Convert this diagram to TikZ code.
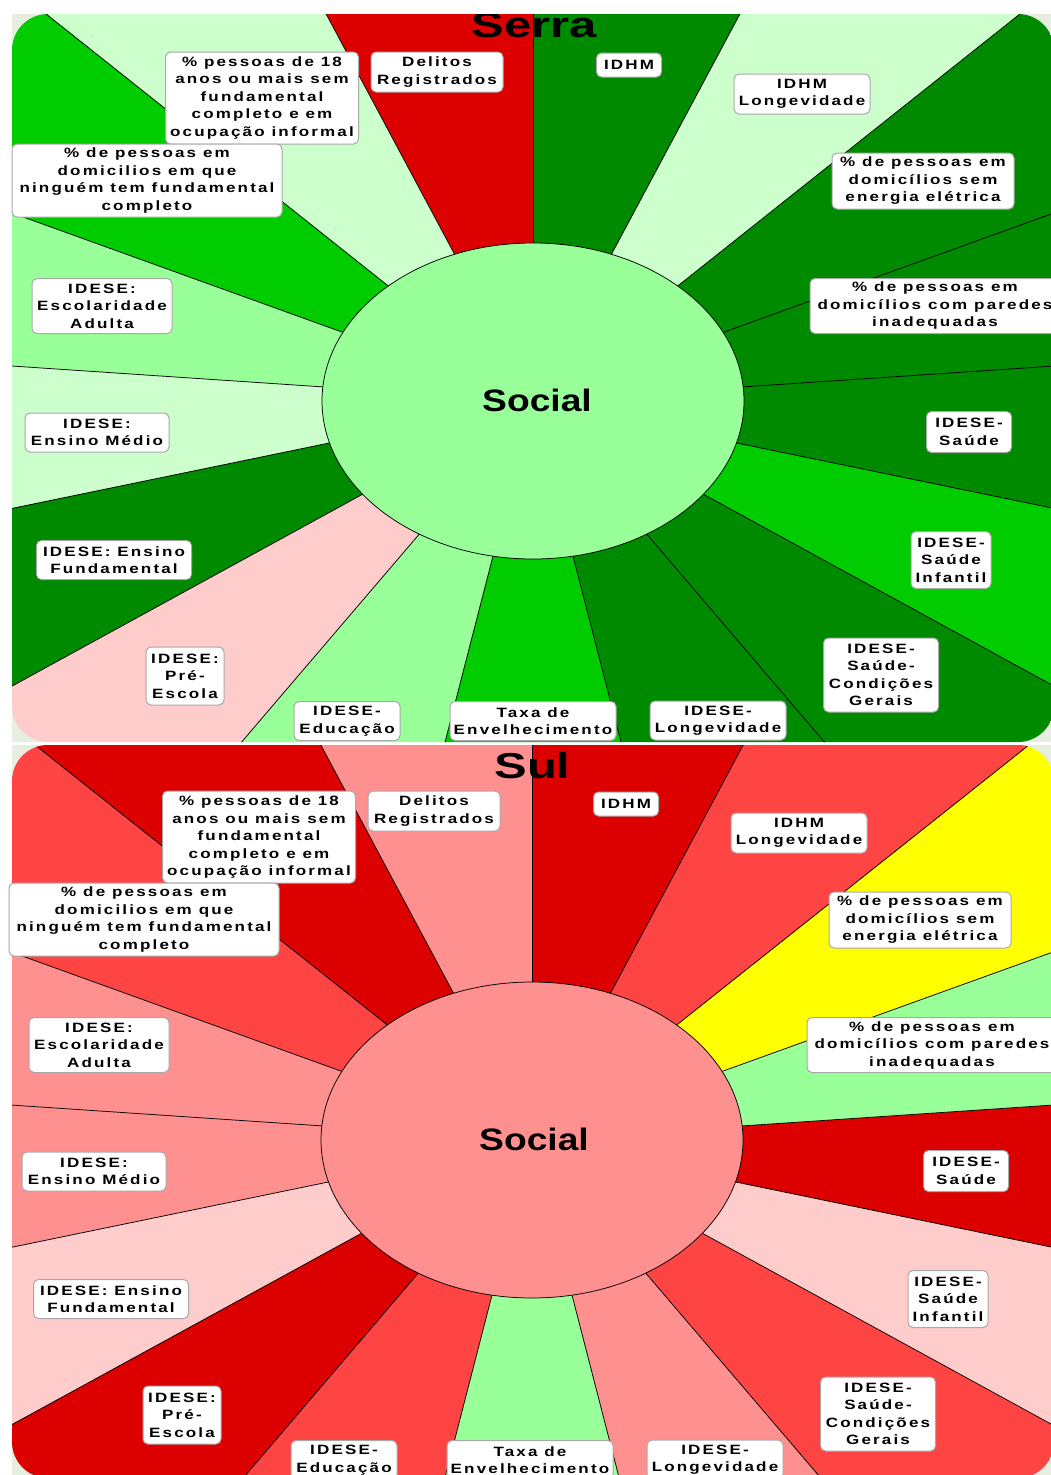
\documentclass[tikz,border=0pt]{standalone}
\usepackage{fontspec}
\setmainfont{Liberation Sans}
\newfontfamily\lblfont[LetterSpace=16,FakeStretch=1.26]{Liberation Sans}
\newfontfamily\ttlfont[FakeStretch=1.36]{Liberation Sans}
\newfontfamily\socfont[FakeStretch=1.2]{Liberation Sans}

\definecolor{cDGreen}{HTML}{008A00}
\definecolor{cBGreen}{HTML}{00CC00}
\definecolor{cLGreen}{HTML}{99FF99}
\definecolor{cVLGreen}{HTML}{CCFFCC}
\definecolor{cPink}{HTML}{FFCCCC}
\definecolor{cRed}{HTML}{DD0000}
\definecolor{cLRed}{HTML}{FF4444}
\definecolor{cSalmon}{HTML}{FF9090}
\definecolor{cYellow}{HTML}{FFFF00}
\definecolor{panelbg}{HTML}{E6EFDF}
\definecolor{lblgray}{HTML}{A8A8A8}

\tikzset{
  edge/.style={draw=black, line width=0.75pt},
  ring/.style={draw=black, line width=0.75pt},
  lbl/.style={draw=lblgray, fill=white, rounded corners=5pt, line width=1pt,
    inner sep=0pt, align=center,
    font=\lblfont\bfseries\fontsize{13.5}{17.5}\selectfont},
  ttl/.style={anchor=base, inner sep=0pt, font=\ttlfont\bfseries\fontsize{36}{40}\selectfont},
  soc/.style={anchor=base, inner sep=0pt, font=\socfont\bfseries\fontsize{31}{36}\selectfont}
}

% the seventeen indicator labels around one wheel
\newcommand\boxlabels[1]{%
  \node[lbl, minimum width=193pt, minimum height=92pt] (#1-s18) at (262,98)
    {\% pessoas de 18\\anos ou mais sem\\fundamental\\completo e em\\ocupação informal};
  \node[lbl, minimum width=132pt, minimum height=40pt] (#1-delitos) at (437,72)
    {Delitos\\Registrados};
  \node[lbl, minimum width=270pt, minimum height=73pt] (#1-ninguem) at (147,180.5)
    {\% de pessoas em\\domicilios em que\\ninguém tem fundamental\\completo};
  \node[lbl, minimum width=65pt, minimum height=24pt] (#1-idhm) at (629,65)
    {IDHM};
  \node[lbl, minimum width=136pt, minimum height=40pt] (#1-idhmlong) at (802,94)
    {IDHM\\Longevidade};
  \node[lbl, minimum width=182pt, minimum height=56pt] (#1-energia) at (923,181)
    {\% de pessoas em\\domicílios sem\\energia elétrica};
  \node[lbl, minimum width=250pt, minimum height=55pt] (#1-paredes) at (935,306)
    {\% de pessoas em\\domicílios com paredes\\inadequadas};
  \node[lbl, minimum width=85pt, minimum height=41pt] (#1-saude) at (969,432)
    {IDESE-\\Saúde};
  \node[lbl, minimum width=80pt, minimum height=57pt] (#1-infantil) at (951,560)
    {IDESE-\\Saúde\\Infantil};
  \node[lbl, minimum width=115pt, minimum height=74pt] (#1-condicoes) at (881,675)
    {IDESE-\\Saúde-\\Condições\\Gerais};
  \node[lbl, minimum width=136pt, minimum height=39pt] (#1-longev) at (718,720.5)
    {IDESE-\\Longevidade};
  \node[lbl, minimum width=166pt, minimum height=39pt] (#1-taxa) at (533,721)
    {Taxa de\\Envelhecimento};
  \node[lbl, minimum width=106pt, minimum height=39pt] (#1-educacao) at (347,721)
    {IDESE-\\Educação};
  \node[lbl, minimum width=78pt, minimum height=58pt] (#1-pre) at (185,676)
    {IDESE:\\Pré-\\Escola};
  \node[lbl, minimum width=155pt, minimum height=39pt] (#1-fundamental) at (114,560)
    {IDESE: Ensino\\Fundamental};
  \node[lbl, minimum width=144pt, minimum height=39pt] (#1-medio) at (97,432.5)
    {IDESE:\\Ensino Médio};
  \node[lbl, minimum width=140pt, minimum height=55pt] (#1-escolaridade) at (102,306)
    {IDESE:\\Escolaridade\\Adulta};
}

\begin{document}
\begin{tikzpicture}[x=1pt,y=-1pt]
\useasboundingbox (0,0) rectangle (1051,1475);
\fill[white] (0,0) rectangle (1051,1475);

% ---------------- Serra ----------------
\fill[panelbg] (12,14) rectangle (1054,742);
\begin{scope}
  \clip[rounded corners=36pt] (12,14) rectangle (1054,742);
  \begin{scope}[shift={(533,401)}, x=1.38pt, y=1pt]
    \foreach \c [count=\i from 0] in {cRed,cVLGreen,cBGreen,cLGreen,cVLGreen,cDGreen,cPink,cLGreen,cBGreen,cDGreen,cDGreen,cBGreen,cDGreen,cDGreen,cDGreen,cVLGreen,cDGreen}
      \fill[\c] (0,0) -- ({90+\i*360/17}:1500) -- ({90+(\i+1)*360/17}:1500) -- cycle;
    \foreach \i in {0,...,16}
      \draw[edge] ({90+\i*360/17}:140) -- ({90+\i*360/17}:1500);
  \end{scope}
  \draw[ring, fill=cLGreen] (533,401) ellipse [x radius=211pt, y radius=158pt];
  \node[soc] (socSerra) at (537,411) {Social};
  \node[ttl] (tSerra) at (534,37) {Serra};
\end{scope}
\boxlabels{serra}

% ---------------- Sul ----------------
\fill[panelbg] (12,745) rectangle (1054,1478);
\begin{scope}
  \clip[rounded corners=36pt] (12,745) rectangle (1054,1478);
  \begin{scope}[shift={(532,1140)}, x=1.38pt, y=1pt]
    \foreach \c [count=\i from 0] in {cSalmon,cRed,cLRed,cSalmon,cSalmon,cPink,cRed,cLRed,cLGreen,cSalmon,cLRed,cPink,cRed,cLGreen,cYellow,cLRed,cRed}
      \fill[\c] (0,0) -- ({90+\i*360/17}:1500) -- ({90+(\i+1)*360/17}:1500) -- cycle;
    \foreach \i in {0,...,16}
      \draw[edge] ({90+\i*360/17}:140) -- ({90+\i*360/17}:1500);
  \end{scope}
  \draw[ring, fill=cSalmon] (532,1140) ellipse [x radius=211pt, y radius=158pt];
  \node[soc] (socSul) at (534,1150) {Social};
  \node[ttl] (tSul) at (532.5,778) {Sul};
\end{scope}
\begin{scope}[shift={(-3,739)}]
  \boxlabels{sul}
\end{scope}
\end{tikzpicture}
\end{document}
